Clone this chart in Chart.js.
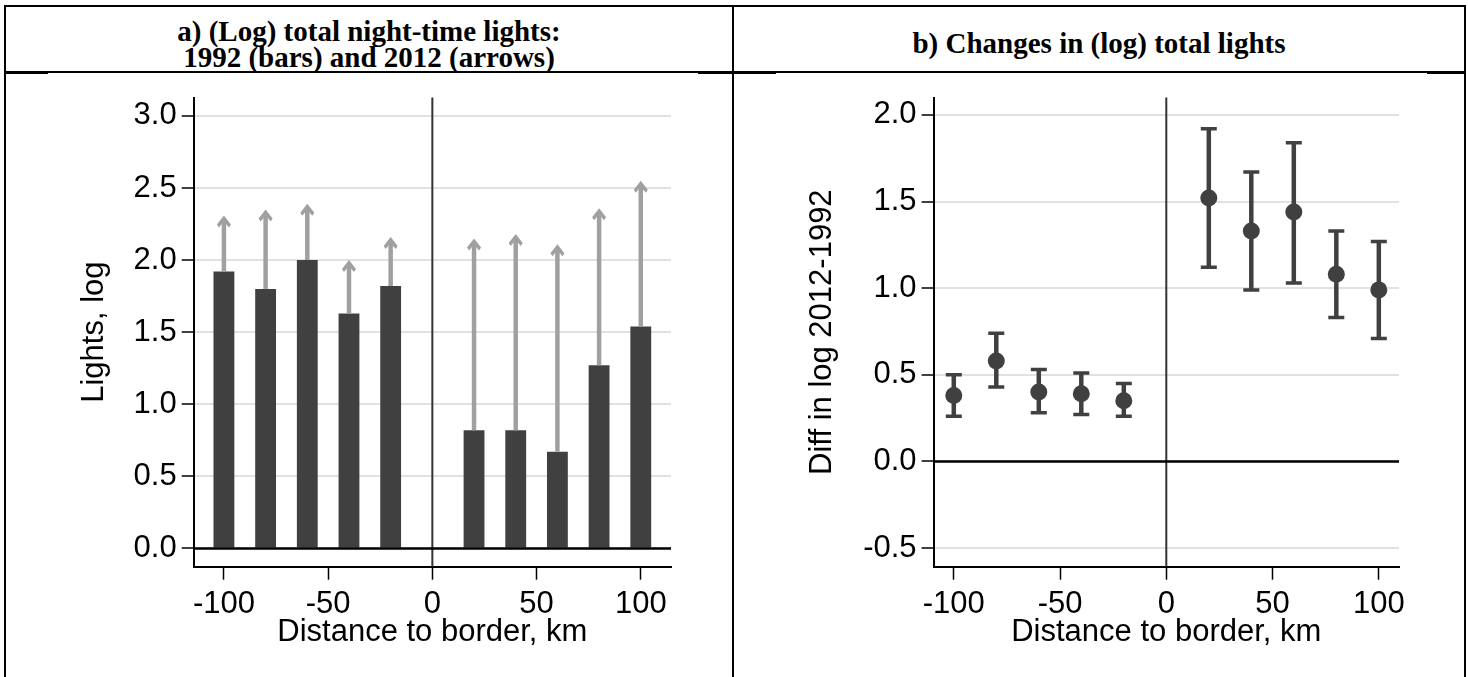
<!DOCTYPE html>
<html>
<head>
<meta charset="utf-8">
<script src="https://cdn.jsdelivr.net/npm/chart.js@4.4.1/dist/chart.umd.min.js"></script>
<style>
  html, body { margin: 0; padding: 0; background: #fff; }
  body { width: 1468px; height: 677px; position: relative; overflow: hidden; }
  .rule { position: absolute; background: #000; }
  .head {
    position: absolute; text-align: center;
    font-family: "Liberation Serif", "Times New Roman", serif;
    font-weight: bold; font-size: 29px; line-height: 26px; color: #000;
  }
  .panel { position: absolute; top: 74px; height: 603px; }
</style>
</head>
<body>
<!-- table borders -->
<div class="rule" style="left:4px; top:5px; width:1462px; height:2px"></div>
<div class="rule" style="left:4px; top:5px; width:2px; height:672px"></div>
<div class="rule" style="left:732px; top:5px; width:2px; height:672px"></div>
<div class="rule" style="left:1464px; top:5px; width:2px; height:672px"></div>
<div class="rule" style="left:4px; top:71px; width:1462px; height:2px"></div>
<div class="rule" style="left:4px; top:73px; width:44px; height:1px"></div>
<div class="rule" style="left:698px; top:73px; width:78px; height:1px"></div>
<div class="rule" style="left:1427px; top:73px; width:39px; height:1px"></div>

<div class="head" style="left:6px; width:726px; top:18px">a) (Log) total night-time lights:<br>1992 (bars) and 2012 (arrows)</div>
<div class="head" style="left:734px; width:730px; top:30px">b) Changes in (log) total lights</div>

<div class="panel" style="left:6px; width:726px"><canvas id="chartA"></canvas></div>
<div class="panel" style="left:734px; width:730px"><canvas id="chartB"></canvas></div>

<script>
// distance bins (km from border)
const distance = [-100, -80, -60, -40, -20, 20, 40, 60, 80, 100];

// panel a: log total lights
const lights1992 = [1.92, 1.80, 2.00, 1.63, 1.82, 0.82, 0.82, 0.67, 1.27, 1.54];
const lights2012 = [2.31, 2.35, 2.39, 2.00, 2.16, 2.15, 2.18, 2.11, 2.36, 2.55];

// panel b: diff in log 2012-1992 with confidence interval
const diffEst = [0.38, 0.58, 0.40, 0.39, 0.35, 1.52, 1.33, 1.44, 1.08, 0.99];
const diffLow = [0.26, 0.43, 0.28, 0.27, 0.26, 1.12, 0.99, 1.03, 0.83, 0.71];
const diffHigh = [0.50, 0.74, 0.53, 0.51, 0.45, 1.92, 1.67, 1.84, 1.33, 1.27];

// tick labels
const xTicks = [-100, -50, 0, 50, 100];
const yTicksA = [0, 0.5, 1, 1.5, 2, 2.5, 3];
const yTicksB = [-0.5, 0, 0.5, 1, 1.5, 2];

const DARK = '#404040';
const ARROW = '#a0a0a0';
const GRID = '#e1e1e1';
const font = { family: '"Liberation Sans", Arial, sans-serif', size: 31 };

// zero lines (x = 0 vertical, y = 0 horizontal)
const zeroLines = {
  id: 'zeroLines',
  beforeDatasetsDraw(chart) {
    const { ctx, chartArea, scales } = chart;
    const x0 = scales.x.getPixelForValue(0);
    ctx.save();
    ctx.strokeStyle = '#333';
    ctx.lineWidth = 2;
    ctx.beginPath();
    ctx.moveTo(x0, chartArea.top);
    ctx.lineTo(x0, chartArea.bottom);
    ctx.stroke();
    ctx.restore();
  },
  afterDatasetsDraw(chart) {
    const { ctx, chartArea, scales } = chart;
    const y0 = scales.y.getPixelForValue(0);
    ctx.save();
    ctx.strokeStyle = '#000';
    ctx.lineWidth = 2.5;
    ctx.beginPath();
    ctx.moveTo(chartArea.left, y0);
    ctx.lineTo(chartArea.right, y0);
    ctx.stroke();
    ctx.restore();
  }
};

// arrows from 1992 bar top up to 2012 value
const arrows = {
  id: 'arrows',
  afterDatasetsDraw(chart) {
    const { ctx, scales } = chart;
    ctx.save();
    ctx.fillStyle = ARROW;
    ctx.strokeStyle = ARROW;
    ctx.lineWidth = 4.5;
    distance.forEach((d, i) => {
      const x = scales.x.getPixelForValue(d);
      const yb = scales.y.getPixelForValue(lights1992[i]);
      const yt = scales.y.getPixelForValue(lights2012[i]);
      ctx.beginPath();
      ctx.moveTo(x, yb);
      ctx.lineTo(x, yt + 6);
      ctx.stroke();
      ctx.beginPath();
      ctx.moveTo(x, yt);
      ctx.lineTo(x + 7, yt + 9);
      ctx.lineTo(x + 5, yt + 12);
      ctx.lineTo(x, yt + 6);
      ctx.lineTo(x - 5, yt + 12);
      ctx.lineTo(x - 7, yt + 9);
      ctx.closePath();
      ctx.fill();
    });
    ctx.restore();
  }
};

// confidence interval bars with caps
const errorBars = {
  id: 'errorBars',
  beforeDatasetsDraw(chart) {
    const { ctx, scales } = chart;
    ctx.save();
    ctx.strokeStyle = DARK;
    distance.forEach((d, i) => {
      const x = scales.x.getPixelForValue(d);
      const lo = scales.y.getPixelForValue(diffLow[i]);
      const hi = scales.y.getPixelForValue(diffHigh[i]);
      ctx.lineWidth = 4.5;
      ctx.beginPath();
      ctx.moveTo(x, lo);
      ctx.lineTo(x, hi);
      ctx.stroke();
      ctx.lineWidth = 3.5;
      ctx.beginPath();
      ctx.moveTo(x - 8, lo); ctx.lineTo(x + 8, lo);
      ctx.moveTo(x - 8, hi); ctx.lineTo(x + 8, hi);
      ctx.stroke();
    });
    ctx.restore();
  }
};

function xScale(min, max) {
  return {
    type: 'linear', min: min, max: max, offset: false,
    afterBuildTicks: s => { s.ticks = xTicks.map(v => ({ value: v })); },
    afterFit: s => { s.height = 110.3; },
    grid: { display: true, drawOnChartArea: false, drawTicks: true, tickLength: 13, tickColor: '#000', tickWidth: 1.5, offset: false },
    border: { display: true, color: '#000', width: 2 },
    ticks: { color: '#000', font: font, padding: 5.8, maxRotation: 0, callback: v => String(v) },
    title: { display: true, text: 'Distance to border, km', color: '#000', font: font, padding: { top: 0, bottom: 26.4 } }
  };
}

function yScale(min, max, ticks, width, label) {
  return {
    type: 'linear', min: min, max: max,
    afterBuildTicks: s => { s.ticks = ticks.map(v => ({ value: v })); },
    afterFit: s => { s.width = width; },
    grid: { color: GRID, lineWidth: 2, drawTicks: true, tickLength: 12, tickColor: '#000', tickWidth: 1.5 },
    border: { display: true, color: '#000', width: 2 },
    ticks: { color: '#000', font: font, padding: 5, callback: v => Number(v).toFixed(1) },
    title: { display: true, text: label, color: '#000', font: font, padding: 0 }
  };
}

const common = {
  responsive: true,
  maintainAspectRatio: false,
  animation: false,
  devicePixelRatio: 1,
  plugins: { legend: { display: false }, tooltip: { enabled: false } }
};

new Chart(document.getElementById('chartA'), {
  type: 'bar',
  data: {
    datasets: [{
      label: '1992',
      data: distance.map((d, i) => ({ x: d, y: lights1992[i] })),
      backgroundColor: DARK,
      borderWidth: 0,
      barPercentage: 0.5,
      categoryPercentage: 1.0
    }]
  },
  options: Object.assign({}, common, {
    layout: { padding: { left: 69.4, right: 61, top: 22, bottom: 0 } },
    scales: {
      x: xScale(-114.5, 114.5),
      y: yScale(-0.127, 3.127, yTicksA, 118.3, 'Lights, log')
    }
  }),
  plugins: [zeroLines, arrows]
});

new Chart(document.getElementById('chartB'), {
  type: 'scatter',
  data: {
    datasets: [{
      label: 'Diff',
      data: distance.map((d, i) => ({ x: d, y: diffEst[i] })),
      backgroundColor: DARK,
      borderWidth: 0,
      pointRadius: 8.5
    }]
  },
  options: Object.assign({}, common, {
    layout: { padding: { left: 69.4, right: 65, top: 22, bottom: 0 } },
    scales: {
      x: xScale(-109.5, 109.5),
      y: yScale(-0.608, 2.10, yTicksB, 130.2, 'Diff in log 2012-1992')
    }
  }),
  plugins: [zeroLines, errorBars]
});
</script>
</body>
</html>
